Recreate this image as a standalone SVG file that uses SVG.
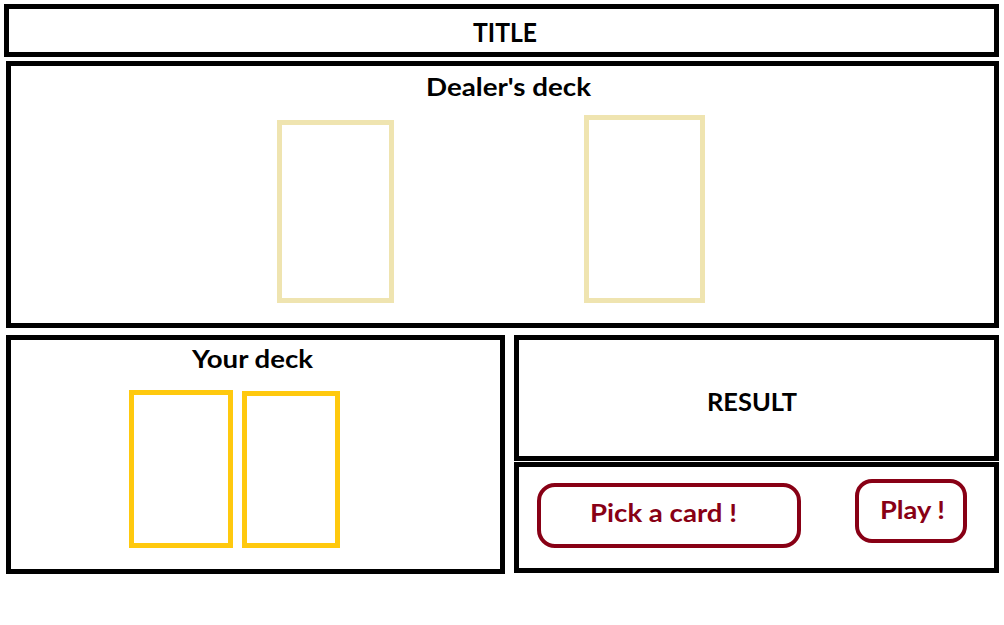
<svg xmlns="http://www.w3.org/2000/svg" width="1004" height="625" viewBox="0 0 1004 625">
<style>
.panel{fill:#fff;stroke:#000;stroke-width:5}
.dcard{fill:none;stroke:#EFE4B0;stroke-width:5}
.ycard{fill:none;stroke:#FFC90E;stroke-width:5}
.btn{fill:none;stroke:#880015;stroke-width:4}
.lbl{font-family:Lato,"Open Sans","Liberation Sans",sans-serif;font-weight:bold;font-size:25px;fill:#000;text-anchor:middle}
.blbl{font-family:Lato,"Open Sans","Liberation Sans",sans-serif;font-weight:bold;font-size:25px;fill:#880015;text-anchor:middle}
</style>
<rect width="1004" height="625" fill="#fff"/>
<g id="title">
<rect class="panel" x="6.5" y="6.5" width="990" height="48"/>
<text class="lbl" x="505" y="42" style="font-size:27px" textLength="64" lengthAdjust="spacingAndGlyphs">TITLE</text>
</g>
<g id="dealer-deck">
<rect class="panel" x="8.5" y="63.5" width="988" height="262"/>
<text class="lbl" x="508.5" y="96" textLength="165" lengthAdjust="spacingAndGlyphs">Dealer's deck</text>
<rect class="dcard" x="279.5" y="122.5" width="112" height="178"/>
<rect class="dcard" x="586.5" y="117.5" width="116" height="183"/>
</g>
<g id="your-deck">
<rect class="panel" x="8.5" y="337.5" width="494" height="234"/>
<text class="lbl" x="252.5" y="368" textLength="121" lengthAdjust="spacingAndGlyphs">Your deck</text>
<rect class="ycard" x="131.5" y="392.5" width="99" height="153"/>
<rect class="ycard" x="244.5" y="393.5" width="93" height="152"/>
</g>
<g id="result">
<rect class="panel" x="516.5" y="337.5" width="480" height="121"/>
<text class="lbl" x="752" y="411" textLength="90" lengthAdjust="spacingAndGlyphs">RESULT</text>
</g>
<g id="actions">
<rect class="panel" x="516.5" y="464.5" width="480" height="106"/>
</g>
<g id="pick-card">
<rect class="btn" x="539" y="485" width="260" height="61" rx="16" ry="16"/>
<text class="blbl" x="663.5" y="522" textLength="147" lengthAdjust="spacingAndGlyphs">Pick a card !</text>
</g>
<g id="play">
<rect class="btn" x="857" y="481" width="108" height="60" rx="15" ry="15"/>
<text class="blbl" x="912.5" y="519" textLength="65" lengthAdjust="spacingAndGlyphs">Play !</text>
</g>
<g id="connectors"/>
</svg>
